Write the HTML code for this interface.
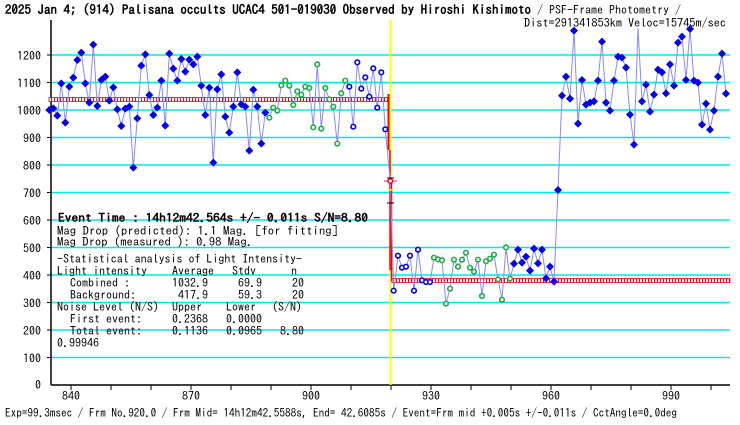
<!DOCTYPE html>
<html><head><meta charset="utf-8">
<style>
html,body{margin:0;padding:0;background:#fff;}
svg{display:block;}
text{font-family:"IPAGothic","Liberation Mono",monospace;fill:#000;}
</style></head><body>
<svg id="s" width="740" height="425" xmlns="http://www.w3.org/2000/svg">
<defs>
<pattern id="chk" width="3" height="2" patternUnits="userSpaceOnUse">
<rect width="3" height="2" fill="#fff"/><rect width="1" height="2" fill="#f00"/>
</pattern>
</defs>
<g id="grid"></g>
<line x1="51" y1="20" x2="51" y2="385" stroke="#000" stroke-width="1.5"/>
<line x1="51" y1="385" x2="730" y2="385" stroke="#000" stroke-width="1.5"/>
<g id="ticks"></g>
<line x1="390.5" y1="20" x2="390.5" y2="385" stroke="#ffff00" stroke-width="2"/>
<rect x="49" y="97.5" width="339" height="4" fill="url(#chk)" stroke="#f00" stroke-width="0.8"/>
<rect x="392" y="278.5" width="338" height="4" fill="url(#chk)" stroke="#f00" stroke-width="0.8"/>
<line x1="388.5" y1="94" x2="388.5" y2="150" stroke="#f00" stroke-width="2"/>
<line x1="390" y1="150" x2="390" y2="270" stroke="#f00" stroke-width="1.5"/>
<line x1="391.5" y1="180" x2="391.5" y2="281" stroke="#f00" stroke-width="1.5"/>
<g id="data"></g>
<line x1="384" y1="181" x2="397" y2="181" stroke="#ff00ff" stroke-width="1"/>
<circle cx="390.3" cy="181" r="2.3" fill="#fff" stroke="#f00" stroke-width="1.5"/>
<line x1="387" y1="178" x2="394" y2="178" stroke="#000"/>
<line x1="387" y1="203" x2="394" y2="203" stroke="#000"/>
<line x1="388" y1="190" x2="393" y2="190" stroke="#ff0" stroke-width="1.5"/>
<g id="ylab" font-size="12"></g>
<g id="xlab" font-size="12"></g>
<text x="5" y="14" font-size="13" font-weight="bold" textLength="526" lengthAdjust="spacingAndGlyphs">2025 Jan 4; (914) Palisana occults UCAC4 501-019030 Observed by Hiroshi Kishimoto</text>
<text x="537" y="14" font-size="12" textLength="144" lengthAdjust="spacingAndGlyphs">/ PSF-Frame Photometry /</text>
<text x="524" y="27" font-size="12" textLength="202" lengthAdjust="spacingAndGlyphs">Dist=291341853km Veloc=15745m/sec</text>
<text x="5" y="417" font-size="12" textLength="672" lengthAdjust="spacingAndGlyphs">Exp=99.3msec / Frm No.920.0 / Frm Mid= 14h12m42.5588s,  End= 42.6085s / Event=Frm mid +0.005s +/-0.011s / CctAngle=0.0deg</text>
<g font-size="12">
<text x="58" y="222" font-weight="bold" textLength="310" lengthAdjust="spacingAndGlyphs">Event Time : 14h12m42.564s  +/- 0.011s  S/N=8.80</text>
<text x="57" y="235" textLength="281" lengthAdjust="spacingAndGlyphs">Mag Drop (predicted):  1.1   Mag. [for fitting]</text>
<text x="57" y="246" textLength="196" lengthAdjust="spacingAndGlyphs">Mag Drop (measured ):  0.98  Mag.</text>
<text x="57" y="263" textLength="245" lengthAdjust="spacingAndGlyphs">-Statistical analysis of Light Intensity-</text>
<text x="57" y="275">Light intensity</text><text x="172" y="275">Average</text><text x="232" y="275">Stdv</text><text x="291" y="275">n</text>
<text x="70" y="287">Combined  :</text><text x="172" y="287">1032.9</text><text x="238" y="287">69.9</text><text x="292" y="287">20</text>
<text x="70" y="299">Background:</text><text x="178" y="299">417.9</text><text x="238" y="299">59.3</text><text x="292" y="299">20</text>
<text x="57" y="311">Noise Level (N/S)</text><text x="172" y="311">Upper</text><text x="226" y="311">Lower</text><text x="272" y="311">(S/N)</text>
<text x="70" y="323">First event:</text><text x="172" y="323">0.2368</text><text x="226" y="323">0.0000</text>
<text x="70" y="335">Total event:</text><text x="172" y="335">0.1136</text><text x="226" y="335">0.0965</text><text x="280" y="335">8.80</text>
<text x="57" y="347">0.99946</text>
</g>
</svg>
<script>
var NS="http://www.w3.org/2000/svg";
function el(p,t,a){var e=document.createElementNS(NS,t);for(var k in a)e.setAttribute(k,a[k]);p.appendChild(e);return e;}
var g=document.getElementById('grid'),tk=document.getElementById('ticks'),yl=document.getElementById('ylab'),xl=document.getElementById('xlab');
for(var v=100;v<=1200;v+=100){var y=385-0.275*v;el(g,'line',{x1:51,y1:y,x2:730,y2:y,stroke:'#00e8e8','stroke-width':1.5});
el(tk,'line',{x1:47,y1:y,x2:51,y2:y,stroke:'#000'});var t=el(yl,'text',{x:41,y:y+5,'text-anchor':'end'});t.textContent=v;}
var t0=el(yl,'text',{x:41,y:389,'text-anchor':'end'});t0.textContent='0';
for(var v=840;v<=1000;v+=10){var x=71+4*(v-840);el(tk,'line',{x1:x,y1:385,x2:x,y2:390,stroke:'#000'});
if((v-840)%30==0){var t=el(xl,'text',{x:x,y:400,'text-anchor':'middle'});t.textContent=v;}}
var pre=[330,325,347,250,368,260,233,180,158,250,308,134,318,240,230,302,262,328,378,326,320,503,355,197,163,285,345,323,242,377,161,206,242,177,215,179,193,170,257,345,263,488,268,223,350,398,320,217,313,320,452,269,320,431,338,353,323,332,256,242,257,315,274,284,260,264,382,193,386,264,298,320,431,280,242,260,380,187,266,232,290,205,323,217,388];
var pts=[];
pre.forEach(function(z,i){pts.push([49.3+4*i,z/3,i<55?'f':(i<75?'g':'o')]);});
pts.push([390.3,181,'e']);
var p4=[[71,302],[84,197],[96,233],[108,230],[120,197],[132,302],[144,179],[156,271],[168,276],[180,276],[192,203],[204,208],[216,211],[228,341],[240,296],[252,209],[264,230],[276,209],[288,188],[300,233],[312,245],[324,209],[336,318],[348,214],[360,206],[372,194],[384,268],[396,329],[408,172],[420,266],[432,221],[444,179],[456,218],[468,200],[480,242],[492,176],[504,220],[516,179],[528,265],[540,230],[552,275],[564,0]];
p4.forEach(function(p,i){pts.push([370+p[0]/3,190+p[1]/3,i<10?'o':(i<30?'g':'f')]);});
var p2=[[576,287],[588,230],[600,296],[612,92],[624,371],[636,240],[648,314],[660,308],[672,304],[684,242],[696,125],[708,308],[720,332],[732,242],[744,170],[756,173],[768,203],[780,344],[792,434],[804,60],[816,304],[828,254],[840,335],[852,284],[864,209],[876,217],[888,280],[900,193],[912,257],[924,128],[936,110],[948,240],[960,87],[972,242],[984,248],[996,374],[1008,311],[1020,389],[1032,332],[1044,230],[1056,161],[1068,281]];
p2.forEach(function(p){pts.push([370+p[0]/3,p[1]/3,'f']);});
var d=document.getElementById('data');
el(d,'polyline',{points:pts.map(function(p){return p[0].toFixed(1)+','+Math.max(p[1],28).toFixed(1);}).join(' '),fill:'none',stroke:'#8888ff','stroke-width':1});
pts.forEach(function(p){var x=p[0],y=p[1];if(y<28)return;
if(p[2]=='f')el(d,'polygon',{points:(x)+','+(y-4)+' '+(x+4)+','+y+' '+x+','+(y+4)+' '+(x-4)+','+y,fill:'#0000ee'});
else if(p[2]=='o')el(d,'circle',{cx:x,cy:y,r:2.3,fill:'#fff',stroke:'#0000ee','stroke-width':1.6});
else if(p[2]=='g')el(d,'circle',{cx:x,cy:y,r:2.3,fill:'#fff',stroke:'#22aa44','stroke-width':1.6});
});
</script>
</body></html>
